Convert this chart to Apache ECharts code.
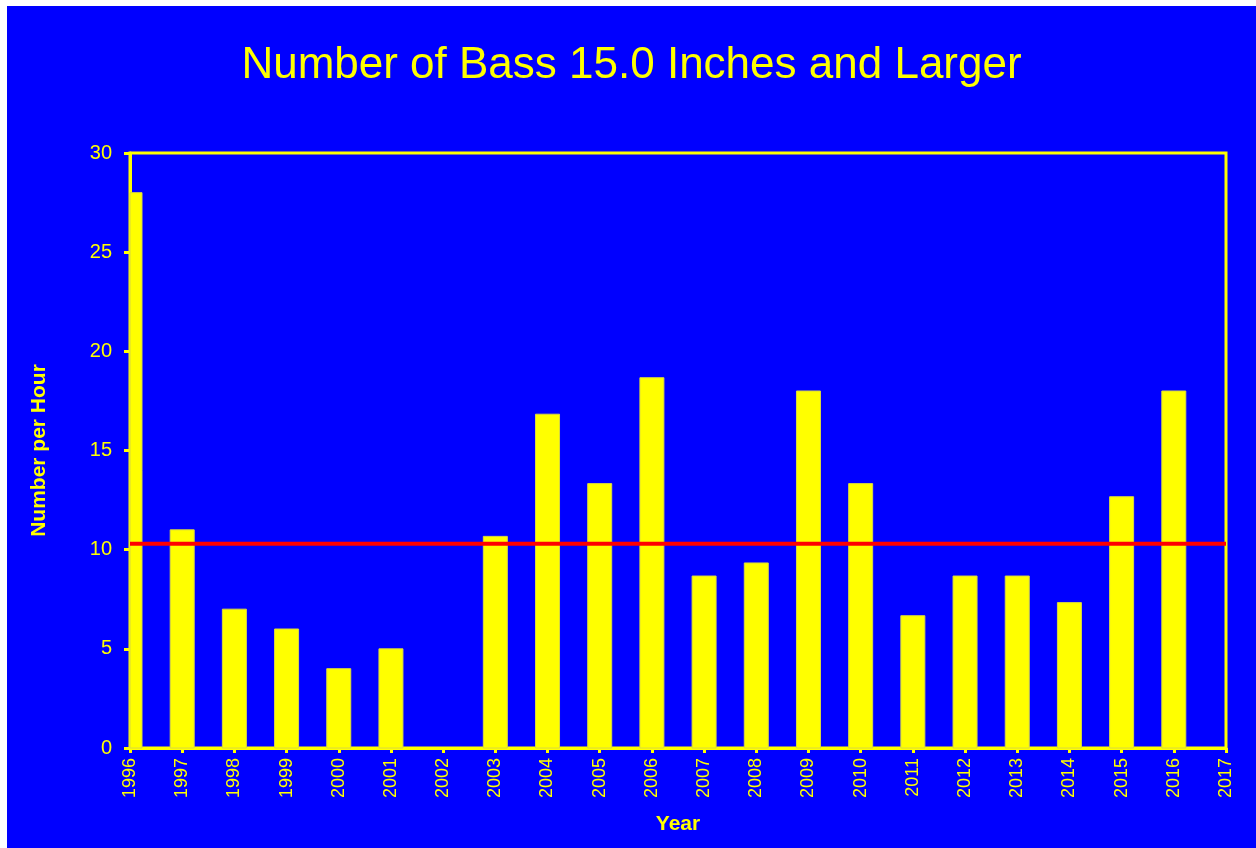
<!DOCTYPE html>
<html>
<head>
<meta charset="utf-8">
<script src="https://cdn.jsdelivr.net/npm/echarts@6/dist/echarts.min.js"></script>
<style>
  html, body { margin: 0; padding: 0; background: #ffffff; width: 1256px; height: 848px; overflow: hidden; }
  #chart { position: absolute; left: 7px; top: 6px; width: 1249px; height: 842px; }
</style>
</head>
<body>
<div id="chart"></div>
<script>
const titleText = "Number of Bass 15.0 Inches and Larger";
const years = [1996, 1997, 1998, 1999, 2000, 2001, 2002, 2003, 2004, 2005, 2006,
               2007, 2008, 2009, 2010, 2011, 2012, 2013, 2014, 2015, 2016];
const perHour = [28, 11, 7, 6, 4, 5, 0, 10.67, 16.83, 13.33, 18.67,
                 8.67, 9.33, 18, 13.33, 6.67, 8.67, 8.67, 7.33, 12.67, 18];
const referenceLine = 10.3;
const xMin = 1996, xMax = 2017;
const yTicks = [0, 5, 10, 15, 20, 25, 30];

const YELLOW = '#FFFF00';
const FONT = 'Liberation Sans, Arial, sans-serif';
const BAR_W = 24;

function renderBar(params, api) {
  const x = api.value(0), v = api.value(1);
  const top = api.coord([x, v]);
  const base = api.coord([x, 0]);
  const cs = params.coordSys;
  const rect = echarts.graphic.clipRectByRect(
    { x: top[0] - BAR_W / 2, y: top[1], width: BAR_W, height: base[1] - top[1] },
    { x: cs.x, y: cs.y, width: cs.width, height: cs.height }
  );
  if (!rect || v <= 0) return null;
  return {
    type: 'rect',
    shape: rect,
    style: { fill: YELLOW, stroke: '#d8d840', lineWidth: 1 }
  };
}

const chart = echarts.init(document.getElementById('chart'));
chart.setOption({
  backgroundColor: '#0000FF',
  animation: false,
  title: {
    text: titleText,
    left: 'center',
    top: 33,
    textStyle: { color: YELLOW, fontSize: 44, fontWeight: 'normal', fontFamily: FONT }
  },
  grid: {
    left: 123, right: 30, top: 147, bottom: 100,
    show: true, borderColor: YELLOW, borderWidth: 3, backgroundColor: 'transparent'
  },
  xAxis: {
    type: 'value',
    min: xMin, max: xMax, interval: 1,
    name: 'Year',
    nameLocation: 'middle',
    nameGap: 66,
    nameTextStyle: { color: YELLOW, fontSize: 21, fontWeight: 'bold', fontFamily: FONT },
    axisLine: { show: true, lineStyle: { color: YELLOW, width: 3 } },
    axisTick: { show: true, length: 5, lineStyle: { color: YELLOW, width: 3 } },
    axisLabel: {
      color: YELLOW, fontSize: 18, rotate: 90, margin: 10, fontFamily: FONT,
      formatter: v => String(v)
    },
    splitLine: { show: false }
  },
  yAxis: {
    type: 'value',
    min: yTicks[0], max: yTicks[yTicks.length - 1], interval: 5,
    name: 'Number per Hour',
    nameLocation: 'middle',
    nameGap: 80,
    nameTextStyle: { color: YELLOW, fontSize: 21, fontWeight: 'bold', fontFamily: FONT },
    axisLine: { show: true, lineStyle: { color: YELLOW, width: 3 } },
    axisTick: { show: true, length: 6, lineStyle: { color: YELLOW, width: 3 } },
    axisLabel: { color: YELLOW, fontSize: 20, margin: 18, fontFamily: FONT },
    splitLine: { show: false }
  },
  series: [{
    type: 'custom',
    renderItem: renderBar,
    data: years.map((y, i) => [y, perHour[i]]),
    encode: { x: 0, y: 1 },
    z: 1
  }, {
    type: 'line',
    data: [[xMin, referenceLine], [xMax, referenceLine]],
    symbol: 'none',
    silent: true,
    lineStyle: { color: '#FF0000', width: 4 },
    z: 3
  }]
});
</script>
</body>
</html>
